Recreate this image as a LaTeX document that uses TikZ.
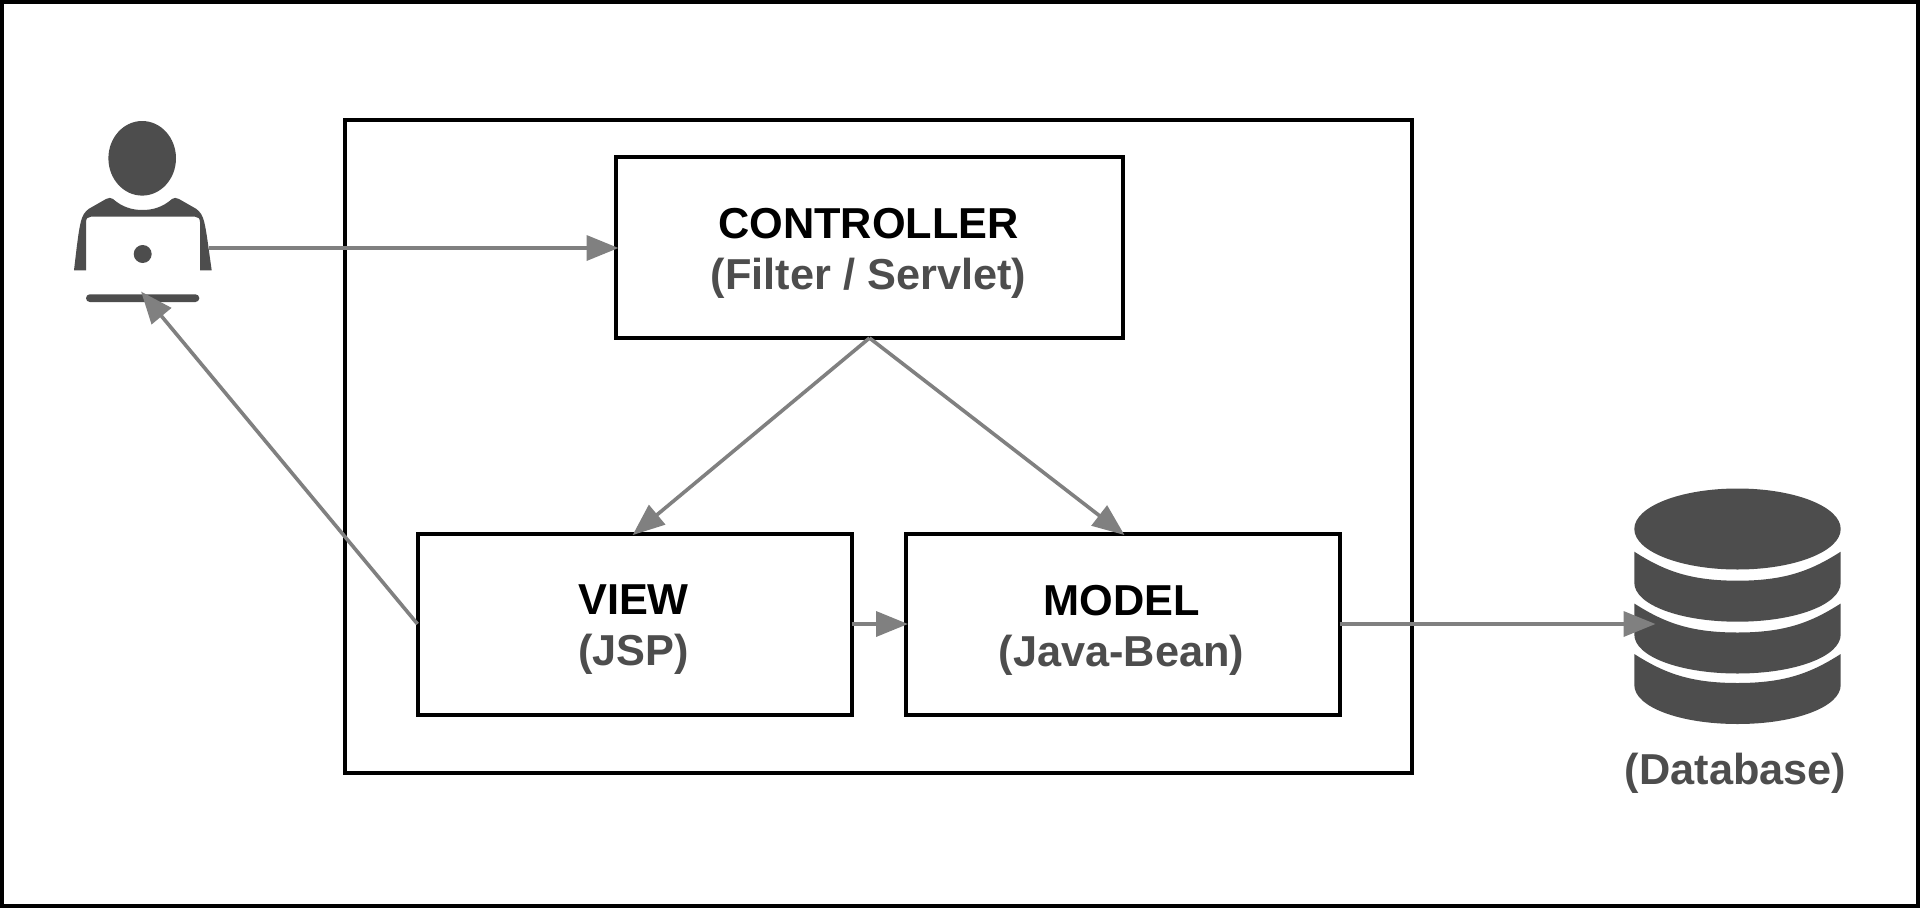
\documentclass[tikz,border=0pt]{standalone}
\usepackage{fontspec}
\setmainfont{Liberation Sans}
\usetikzlibrary{arrows.meta}
\definecolor{icon}{HTML}{4D4D4D}
\definecolor{conn}{HTML}{808080}
\newcommand{\dblayer}[1]{%
  \fill[icon] (1634.3,#1) .. controls (1664,#1+19) and (1690,#1+29) .. (1737.5,#1+29)
    .. controls (1785,#1+29) and (1811,#1+19) .. (1840.7,#1)
    -- (1840.7,#1+31) .. controls (1840.7,#1+53) and (1795,#1+70) .. (1737.5,#1+70)
    .. controls (1680,#1+70) and (1634.3,#1+53) .. (1634.3,#1+31) -- cycle;}
\tikzset{
  x=1pt,y=-1pt,
  boxnode/.style={draw=black,line width=4pt,fill=white,inner sep=0pt,outer sep=0pt,
    minimum width=434pt,minimum height=181pt},
  boxlabel/.style={inner sep=0pt,outer sep=0pt,align=center,
    font=\fontsize{43.3}{51}\selectfont\bfseries},
  conn line/.style={draw=conn,line width=3.6pt,shorten >=-2.5pt,
    -{Triangle[length=32pt,width=25pt,fill=conn]}},
}
\begin{document}
\begin{tikzpicture}
\useasboundingbox (0,0) rectangle (1920,908);
\fill[white] (0,0) rectangle (1920,908);
\draw[line width=4pt,black] (2,2) rectangle (1918,906);
\draw[line width=4pt,black] (345,120) rectangle (1412,773);
\node[boxnode,minimum width=507pt] (controller) at (869.5,247.5) {};
\node[boxlabel,xshift=-1pt,yshift=-6pt] (controllerlabel) at (controller.center)
  {CONTROLLER\\{\color{icon}(Filter / Servlet)}};
\node[boxnode] (view) at (634.5,624) {};
\node[boxlabel,xshift=-1pt,yshift=-6pt] (viewlabel) at (view.center)
  {VIEW\\{\color{icon}(JSP)}};
\node[boxnode] (model) at (1122.5,624) {};
\node[boxlabel,xshift=-1pt,yshift=-6pt] (modellabel) at (model.center)
  {MODEL\\{\color{icon}(Java-Bean)}};
% user icon
\fill[icon] (142.2,158.3) ellipse [x radius=33.8,y radius=37.3];
\fill[icon] (74,270.3) .. controls (77,245) and (79,226) .. (82,218)
  .. controls (84,212) and (88,209) .. (92,207) -- (106,199)
  .. controls (109,197.5) and (111,197.5) .. (113,199)
  .. controls (122,207) and (132,210) .. (142.5,210)
  .. controls (153,210) and (163,207) .. (172,199)
  .. controls (174,197.5) and (176,197.5) .. (179,199) -- (193,207)
  .. controls (197,209) and (201,212) .. (203,218)
  .. controls (206,226) and (208,245) .. (211.7,270.3)
  -- (200,270.3) -- (200,222) .. controls (200,218.5) and (198,216.7) .. (195,216.7)
  -- (91,216.7) .. controls (88,216.7) and (86,218.5) .. (86,222) -- (86,270.3) -- cycle;
\fill[icon] (142.7,254) circle [radius=9];
\fill[icon,rounded corners=3.8pt] (86,294.3) rectangle (199.3,302);
% database icon
\fill[icon] (1737.5,529) ellipse [x radius=103.2,y radius=40.5];
\dblayer{551.7}
\dblayer{603.5}
\dblayer{654}
\node[boxlabel,text=icon] (dblabel) at (1735.5,773) {(Database)};
\coordinate (userout) at (209,248);
\coordinate (userin) at (142.7,293.5);
\coordinate (dbin) at (1653,624);
\draw[conn line] (userout) -- (userout -| controller.west);
\draw[conn line] (controller.south) -- (view.north);
\draw[conn line] (controller.south) -- (model.north);
\draw[conn line] (view.east) -- (model.west);
\draw[conn line] (view.west) -- (userin);
\draw[conn line] (model.east) -- (dbin);
\end{tikzpicture}
\end{document}
